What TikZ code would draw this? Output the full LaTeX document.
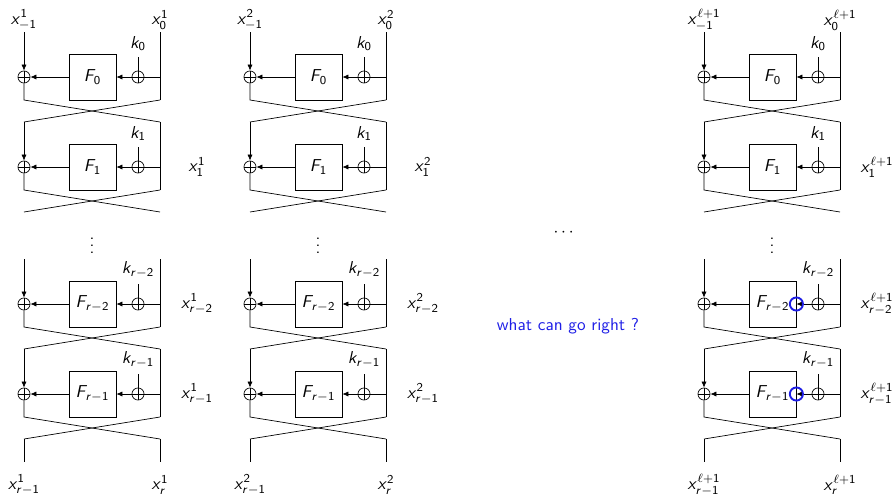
\documentclass[tikz,border=0pt]{standalone}
\usepackage{amsmath}
\usepackage{tikz}
\usetikzlibrary{arrows.meta,positioning,calc}
% sans math letters, beamer like
\SetSymbolFont{operators}{normal}{OT1}{cmss}{m}{n}
\SetSymbolFont{letters}{normal}{OT1}{cmss}{m}{sl}
\DeclareSymbolFont{cmletters}{OML}{cmm}{m}{it}
\DeclareMathSymbol{\ell}{\mathord}{cmletters}{"60}
\definecolor{Hilite}{RGB}{30,30,230}
\tikzset{
  fbox/.style={rectangle,draw,minimum width=27.3pt,minimum height=26.7pt,inner sep=1pt},
  xorn/.style={circle,draw,inner sep=0pt,minimum size=7pt,
               path picture={\draw (path picture bounding box.north) -- (path picture bounding box.south)
                                   (path picture bounding box.west) -- (path picture bounding box.east);}},
  fedge/.style={-{Latex[length=3.5pt,width=3pt]}},
  hl/.style={circle,draw=Hilite,line width=1.1pt,inner sep=0pt,minimum size=7.6pt},
}

\begin{document}
\begin{tikzpicture}[x=0.58pt,y=-0.58pt,font=\sffamily]
  \useasboundingbox (0,0) rectangle (895,495);
  % three feistel columns
  \foreach \cc/\lx/\supx in {1/24/1,2/250/2,3/704/\ell+1}{
    \node (inl\cc) at (\lx,20) {$x_{-1}^{\supx}$};
    \node (inr\cc) at (\lx+136,20) {$x_{0}^{\supx}$};
    \node (outl\cc) at (\lx,485) {$x_{r-1}^{\supx}$};
    \node (outr\cc) at (\lx+136,485) {$x_{r}^{\supx}$};
    \node (vd\cc) at (\lx+68,241) {$\vdots$};
    \foreach \rr/\yy/\kk in {a/77/0,b/167/1,c/304/r-2,d/394/r-1}{
      \node[fbox] (F\cc\rr) at (\lx+68.5,\yy) {$F_{\kk}$};
      \node[xorn] (xl\cc\rr) at (\lx,\yy) {};
      \node[xorn] (xr\cc\rr) at (\lx+114,\yy) {};
      \coordinate (tl\cc\rr) at (\lx,\yy-45);
      \coordinate (tr\cc\rr) at (\lx+136,\yy-45);
      \coordinate (jr\cc\rr) at (\lx+136,\yy);
      \coordinate (bl\cc\rr) at (\lx,\yy+23);
      \coordinate (br\cc\rr) at (\lx+136,\yy+23);
      \coordinate (cl\cc\rr) at (\lx,\yy+45);
      \coordinate (cr\cc\rr) at (\lx+136,\yy+45);
      \coordinate (kt\cc\rr) at (\lx+114,\yy-20);
      \node[above=0pt of kt\cc\rr] (k\cc\rr) {$k_{\kk}$};
      \draw[fedge] (tl\cc\rr) -- (xl\cc\rr);
      \draw (tr\cc\rr) -- (br\cc\rr);
      \draw (kt\cc\rr) -- (xr\cc\rr);
      \draw (jr\cc\rr) -- (xr\cc\rr);
      \draw[fedge] (xr\cc\rr) -- (F\cc\rr);
      \draw[fedge] (F\cc\rr) -- (xl\cc\rr);
      \draw (xl\cc\rr) -- (bl\cc\rr) -- (cr\cc\rr);
      \draw (br\cc\rr) -- (cl\cc\rr);
    }
    \foreach \rr/\yy/\kk in {b/167/1,c/304/r-2,d/394/r-1}
      \node (s\cc\rr) at (\lx+173,\yy) {$x_{\kk}^{\supx}$};
    \coordinate (el\cc) at (\lx,462);
    \coordinate (er\cc) at (\lx+136,462);
    \draw (cl\cc d) -- (el\cc);
    \draw (cr\cc d) -- (er\cc);
  }
  % last column
  \node[hl] (hl1) at (F3c.east) {};
  \node[hl] (hl2) at (F3d.east) {};
  \node (hdots) at (565,233) {$\cdots$};
  \node[text=Hilite] (ask) at (568,326) {what can go right ?};
\end{tikzpicture}
\end{document}
